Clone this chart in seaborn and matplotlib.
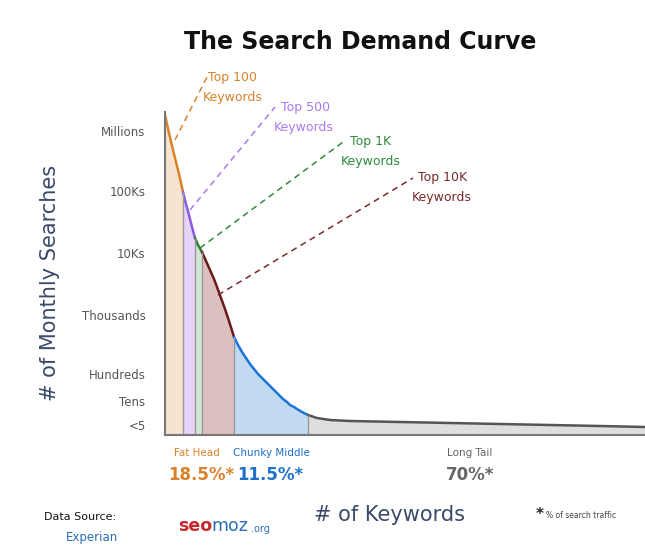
import numpy as np
import pandas as pd
import matplotlib
matplotlib.use("Agg")
import matplotlib.pyplot as plt
import seaborn as sns

# data (x = keyword rank position, y = search level)
rank_pos = [0, 4, 9, 14, 18, 21, 24, 27, 30, 33, 37, 41, 45, 49, 52, 56, 60,
            64, 69, 73, 77, 81, 85, 89, 93, 98, 102, 106, 110, 114, 118, 122,
            125, 129, 132, 137, 143, 152, 165, 185, 235, 285, 335, 385, 435, 480]
search_level = [320, 302, 281, 261, 243, 231, 220, 208, 197, 190, 183, 174, 165,
                156, 148, 137, 126, 114, 98, 90, 83, 77, 71, 66, 61, 56, 52, 48,
                44, 40, 36, 33, 30, 28, 26, 23, 20, 17, 15, 14, 13, 12, 11, 10,
                9, 8]

tick_names = ["Millions", "100Ks", "10Ks", "Thousands", "Hundreds", "Tens", "<5"]
tick_levels = [304, 244, 182, 120, 61, 34, 10]

segments = ["Top 100", "Top 500", "Top 1K", "Top 10K", "Chunky Middle", "Long Tail"]
seg_start = [0, 18, 30, 37, 69, 143]
seg_end = [18, 30, 37, 69, 143, 480]
line_colors = ["#d9822b", "#8a5ce0", "#2e7d32", "#6b1a1a", "#1a73d9", "#555555"]
fill_colors = ["#f6e3d0", "#e6d3f7", "#d2e6d6", "#dcc0c0", "#c2daf0", "#dedede"]

groups = ["Fat Head", "Chunky Middle", "Long Tail"]
shares = ["18.5%*", "11.5%*", "70%*"]
group_colors = ["#d9822b", "#1f6fc9", "#666666"]

df = pd.DataFrame({"rank": rank_pos, "level": search_level})

W, H = 645, 549
sns.set_style("white")
fig = plt.figure(figsize=(W / 100, H / 100), dpi=100)

def fx(x):
    return x / W

def fy(y):
    return 1 - y / H

ax = fig.add_axes([fx(165), fy(435), (645 - 165) / W, (435 - 112) / H])

for i, seg in enumerate(segments):
    part = df[(df["rank"] >= seg_start[i]) & (df["rank"] <= seg_end[i])]
    ax.fill_between(part["rank"], 0, part["level"], color=fill_colors[i], lw=0)
    sns.lineplot(data=part, x="rank", y="level", color=line_colors[i], lw=1.8, ax=ax)

# separators between the bands
lv = dict(zip(rank_pos, search_level))
bounds = seg_start[1:]
ax.vlines(bounds, 0, [lv[b] for b in bounds], color="#999999", lw=1)

ax.set_xlim(0, 480)
ax.set_ylim(0, 323)
ax.set_xticks([])
ax.set_yticks(tick_levels, tick_names)
ax.tick_params(axis="y", length=0, pad=14, labelsize=8.5, labelcolor="#555555")
ax.set_xlabel("")
ax.set_ylabel("")
for s in ["top", "right"]:
    ax.spines[s].set_visible(False)
for s in ["left", "bottom"]:
    ax.spines[s].set_color("#777777")
    ax.spines[s].set_linewidth(1.5)

# leader lines to the "Top N" labels
leaders = [((10, 295), (42, 358), "Top 100", (43, 358), (38, 338)),
           ((25, 225), (110, 328), "Top 500", (116, 328), (109, 308)),
           ((35, 187), (178, 293), "Top 1K", (185, 294), (176, 274)),
           ((53, 140), (248, 257), "Top 10K", (253, 258), (247, 238))]
lead_colors = ["#d9822b", "#a77af0", "#2e8b3a", "#7a2a2a"]
for (p0, p1, txt, tp, kp), c in zip(leaders, lead_colors):
    ax.plot([p0[0], p1[0]], [p0[1], p1[1]], ls=(0, (4, 3)), color=c, lw=1.1,
            clip_on=False)
    ax.text(tp[0], tp[1], txt, color=c, fontsize=9, ha="left", va="center",
            clip_on=False)
    ax.text(kp[0], kp[1], "Keywords", color=c, fontsize=9, ha="left",
            va="center", clip_on=False)

fig.text(fx(360), fy(42), "The Search Demand Curve", ha="center", va="center",
         fontsize=17, fontweight="bold", color="#111111")
fig.text(fx(50), fy(283), "# of Monthly Searches", rotation=90, ha="center",
         va="center", fontsize=15, color="#3b4a6b")
fig.text(fx(390), fy(515), "# of Keywords", ha="center", va="center",
         fontsize=15, color="#3b4a6b")

group_x = [197, 271, 470]
share_x = [201, 270, 470]
for g, s, c, gx, sx in zip(groups, shares, group_colors, group_x, share_x):
    fig.text(fx(gx), fy(453), g, ha="center", va="center", fontsize=7.5, color=c)
    fig.text(fx(sx), fy(475), s, ha="center", va="center", fontsize=12,
             fontweight="bold", color=c)

fig.text(fx(80), fy(517), "Data Source:", ha="center", va="center", fontsize=8,
         color="#111111")
fig.text(fx(92), fy(537), "Experian", ha="center", va="center", fontsize=8.5,
         color="#2a6db5")
fig.text(fx(178), fy(526), "seo", ha="left", va="center", fontsize=12.5,
         fontweight="bold", color="#c8282c")
fig.text(fx(211), fy(526), "moz", ha="left", va="center", fontsize=12.5,
         color="#2a6db5")
fig.text(fx(251), fy(529), ".org", ha="left", va="center", fontsize=7,
         color="#2a6db5")
fig.text(fx(540), fy(514), "*", ha="center", va="center", fontsize=11,
         fontweight="bold", color="#222222")
fig.text(fx(546), fy(515), "% of search traffic", ha="left", va="center",
         fontsize=5.5, color="#444444")

fig.savefig("out.png", dpi=100)
